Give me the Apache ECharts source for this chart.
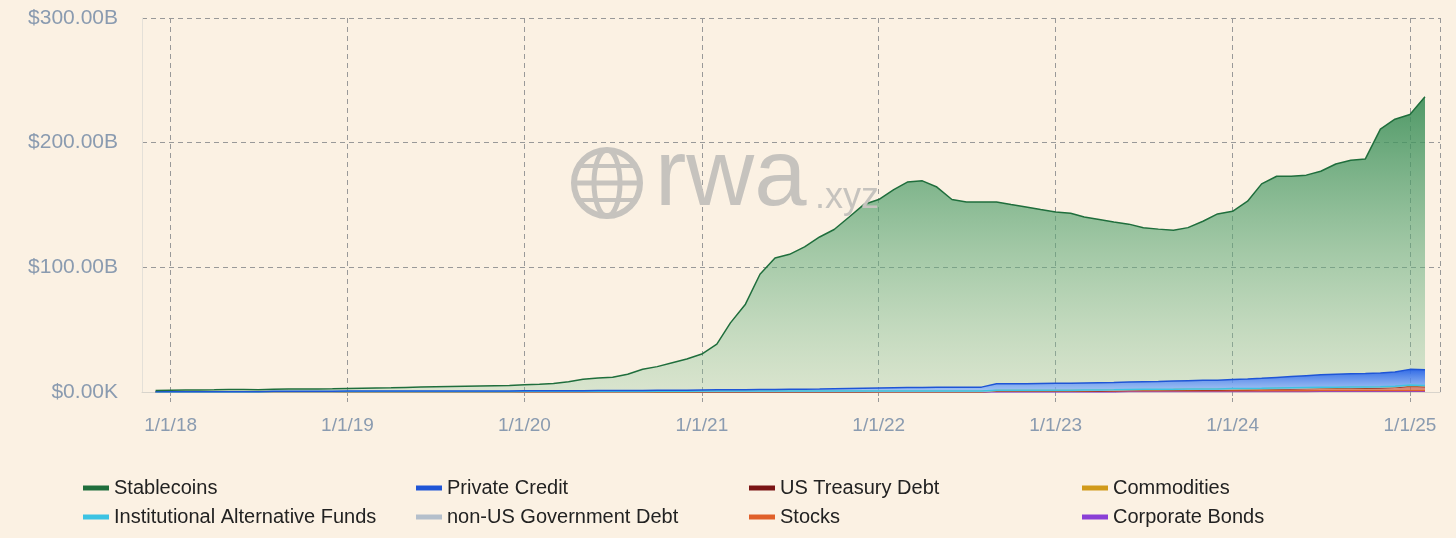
<!DOCTYPE html>
<html>
<head>
<meta charset="utf-8">
<script src="https://cdn.jsdelivr.net/npm/echarts@6/dist/echarts.min.js"></script>
<style>
  html, body { margin: 0; padding: 0; background: #fbf1e3; }
  #chart { width: 1456px; height: 538px; }
</style>
</head>
<body>
<div id="chart"></div>
<script>
// monthly dates, Dec 2017 .. Feb 2025
const dates = ['2017-12-01']
for (let y = 2018; y <= 2024; y++) {
  for (let m = 1; m <= 12; m++) dates.push(y + '-' + String(m).padStart(2, '0') + '-01')
}
dates.push('2025-01-01', '2025-02-01')

// values in billions USD
const stablecoins = [1.1,
  1.3,1.4,1.5,1.6,1.8,1.8,1.6,1.7,1.8,1.8,1.9,2.0,
  2.0,2.2,2.4,2.6,2.9,3.2,3.4,3.6,3.8,4.0,4.2,4.4,
  4.8,5.3,5.7,7.2,9.2,10.1,10.6,13.1,17,19,22,25,
  28.8,36.7,53.7,68.6,92.5,105.4,108.3,114.2,122,127.8,137.6,147.4,
  151.2,159,164.8,165.7,160.6,150.6,148.6,148.5,145.8,143.8,141.7,139.6,
  137.5,136.4,133.2,131,128.8,126.6,123.5,122.2,121,122.8,127.6,133.4,
  135,142.7,156,161.4,160.8,160.9,163.3,168.7,171.3,172.1,195.6,202.8,
  204.5,219]
const privateCredit = [0.1,
  0.1,0.1,0.1,0.1,0.1,0.1,0.2,0.2,0.2,0.2,0.2,0.2,
  0.3,0.3,0.3,0.3,0.3,0.3,0.3,0.3,0.3,0.3,0.3,0.3,
  0.4,0.4,0.5,0.5,0.5,0.6,0.6,0.6,0.7,0.7,0.8,0.8,
  0.9,1,1,1.1,1.2,1.3,1.4,1.5,1.6,1.8,2,2.2,
  2.4,2.6,2.8,2.9,3,3,3,3.1,5.2,5.2,5.3,5.4,
  5.5,5.6,5.7,5.8,5.9,6,6.1,6.3,6.5,6.7,6.9,7,
  7.2,7.5,8,8.5,9,9.5,10,10.3,10.6,10.8,11,11.5,
  12.5,12.5]
const treasury = [0,
  0,0,0,0,0,0,0,0,0,0,0,0,
  0,0,0,0,0,0,0,0,0,0,0,0,
  0,0,0,0,0,0,0,0,0,0,0,0,
  0,0,0,0,0,0,0,0,0,0,0,0,
  0.05,0.05,0.05,0.05,0.05,0.05,0.05,0.05,0.05,0.05,0.05,0.05,
  0.1,0.1,0.2,0.3,0.4,0.5,0.6,0.6,0.7,0.7,0.8,0.8,
  0.9,1,1.1,1.3,1.5,1.7,1.8,1.9,2,2.1,2.3,2.6,
  3.6,3.2]
const stocks = [0,
  0,0,0,0,0,0,0,0,0,0,0,0,
  0,0,0,0,0,0,0,0,0,0,0,0,
  0,0,0,0,0,0,0,0,0,0.1,0.1,0.1,
  0.1,0.1,0.1,0.1,0.1,0.1,0.1,0.1,0.1,0.1,0.1,0.1,
  0.1,0.1,0.1,0.1,0.1,0.1,0.1,0.1,0.8,0.8,0.8,0.8,
  0.8,0.8,0.8,0.8,0.8,0.6,0.6,0.6,0.6,0.6,0.6,0.6,
  0.6,0.6,0.6,0.6,0.6,0.6,0.6,0.6,0.6,0.6,0.6,0.6,
  0.6,0.6]
const corporateBonds = [0,
  0,0,0,0,0,0,0,0,0,0,0,0,
  0,0,0,0,0,0,0,0,0,0,0,0,
  0,0,0,0,0,0,0,0,0,0,0,0,
  0,0,0,0,0,0,0,0,0,0,0,0,
  0,0,0,0,0,0,0,0,0,0,0,0,
  0,0,0,0,0,0.4,0.4,0.4,0.4,0.5,0.5,0.5,
  0.5,0.5,0.5,0.5,0.5,0.5,0.6,0.6,0.6,0.6,0.6,0.6,
  0.6,0.6]
const altFunds = [0,
  0,0,0,0,0,0,0,0.3,0.3,0.3,0.3,0.3,
  0.3,0.3,0.3,0.3,0.3,0.3,0.3,0.3,0.3,0.3,0.3,0.3,
  0.3,0.3,0.3,0.3,0.3,0.3,0.3,0.3,0.3,0.3,0.3,0.3,
  0.3,0.3,0.3,0.3,0.3,0.3,0.3,0.3,0.3,0.3,0.3,0.3,
  0.3,0.3,0.3,0.3,0.3,0.3,0.3,0.3,0.2,0.2,0.2,0.2,
  0.2,0.2,0.2,0.2,0.2,0.2,0.2,0.2,0.2,0.2,0.2,0.2,
  0.3,0.3,0.3,0.3,0.3,0.3,0.3,0.3,0.3,0.3,0.3,0.3,
  0.3,0.3]
const nonUsDebt = dates.map(() => 0.05)
const commodities = [0,
  0,0,0,0,0,0,0,0,0,0,0,0,
  0.1,0.1,0.1,0.1,0.1,0.1,0.1,0.1,0.1,0.1,0.1,0.1,
  0.2,0.2,0.2,0.2,0.2,0.2,0.2,0.2,0.2,0.2,0.2,0.2,
  0.3,0.3,0.3,0.3,0.3,0.3,0.3,0.3,0.3,0.3,0.3,0.3,
  0.3,0.3,0.3,0.3,0.3,0.3,0.3,0.3,0.3,0.3,0.3,0.3,
  0.3,0.3,0.3,0.3,0.3,0.3,0.3,0.3,0.3,0.3,0.3,0.3,
  0.4,0.4,0.4,0.4,0.4,0.4,0.4,0.4,0.4,0.4,0.4,0.4,
  0.5,0.5]

const font = 'Liberation Sans, Arial, Helvetica, sans-serif'
const chart = echarts.init(document.getElementById('chart'))
const ts = d => Date.parse(d + 'T00:00:00')

const grad = (c1, c2) => new echarts.graphic.LinearGradient(0, 0, 0, 1, [
  { offset: 0, color: c1 }, { offset: 1, color: c2 }
])

// stacked bottom-to-top
const layers = [
  { name: 'Corporate Bonds', data: corporateBonds, line: '#8a3fd6', top: 'rgba(160,90,230,0.9)', bot: 'rgba(180,120,240,0.6)' },
  { name: 'Stocks', data: stocks, line: '#e0602a', top: 'rgba(235,110,60,0.9)', bot: 'rgba(240,140,90,0.6)' },
  { name: 'US Treasury Debt', data: treasury, line: '#7a1414', top: 'rgba(190,70,60,0.85)', bot: 'rgba(230,140,110,0.6)' },
  { name: 'Commodities', data: commodities, line: '#d19a1a', top: 'rgba(225,170,50,0.8)', bot: 'rgba(235,200,110,0.5)' },
  { name: 'non-US Government Debt', data: nonUsDebt, line: '#b4bfcb', top: 'rgba(190,200,212,0.8)', bot: 'rgba(210,218,226,0.5)' },
  { name: 'Institutional Alternative Funds', data: altFunds, line: '#3cc3e3', top: 'rgba(80,200,230,0.8)', bot: 'rgba(140,220,240,0.5)' },
  { name: 'Private Credit', data: privateCredit, line: '#1f55d6', top: 'rgba(40,100,230,0.95)', bot: 'rgba(130,180,250,0.7)' },
  { name: 'Stablecoins', data: stablecoins, line: '#1f6e3c', top: 'rgba(55,140,85,0.88)', bot: 'rgba(130,195,150,0.28)' }
]

const series = layers.map(l => ({
  name: l.name,
  type: 'line',
  stack: 'total',
  symbol: 'none',
  data: dates.map((d, i) => [d, l.data[i]]),
  lineStyle: { color: l.line, width: 1.5 },
  itemStyle: { color: l.line },
  areaStyle: { color: grad(l.top, l.bot), opacity: 1 },
  z: 2
}))

// legend placement: 4 columns x 2 rows
const legendRows = [
  ['Stablecoins', 'Private Credit', 'US Treasury Debt', 'Commodities'],
  ['Institutional Alternative Funds', 'non-US Government Debt', 'Stocks', 'Corporate Bonds']
]
const colX = [78, 411, 744, 1077]
const legends = []
legendRows.forEach((row, r) => {
  row.forEach((name, c) => {
    legends.push({
      data: [{ name, icon: 'rect' }],
      left: colX[c],
      top: 473 + r * 29,
      itemWidth: 26,
      itemHeight: 5,
      itemGap: 10,
      selectedMode: false,
      textStyle: { fontFamily: font, fontSize: 20, color: '#222' }
    })
  })
})

chart.setOption({
  backgroundColor: '#fbf1e3',
  animation: false,
  legend: legends,
  grid: { left: 142, right: 16, top: 18, bottom: 146 },
  graphic: [
    { type: 'circle', shape: { cx: 607, cy: 183, r: 33 }, style: { fill: 'none', stroke: '#c6c3be', lineWidth: 6 }, z: 10 },
    { type: 'ellipse', shape: { cx: 607, cy: 183, rx: 13, ry: 33 }, style: { fill: 'none', stroke: '#c6c3be', lineWidth: 5 }, z: 10 },
    { type: 'line', shape: { x1: 574, y1: 183, x2: 640, y2: 183 }, style: { stroke: '#c6c3be', lineWidth: 5 }, z: 10 },
    { type: 'line', shape: { x1: 580, y1: 166, x2: 634, y2: 166 }, style: { stroke: '#c6c3be', lineWidth: 4 }, z: 10 },
    { type: 'line', shape: { x1: 580, y1: 200, x2: 634, y2: 200 }, style: { stroke: '#c6c3be', lineWidth: 4 }, z: 10 },
    { type: 'text', left: 655, top: 132, style: { text: 'rwa', font: '94px ' + font, fill: '#c6c3be' }, z: 10 },
    { type: 'text', left: 815, top: 180, style: { text: '.xyz', font: '36px ' + font, fill: '#c6c3be' }, z: 10 }
  ],
  xAxis: {
    type: 'time',
    min: ts('2017-11-03'),
    max: ts('2025-03-04'),
    minInterval: 365 * 24 * 3600 * 1000,
    splitNumber: 8,
    axisLine: { show: true, lineStyle: { color: '#d8d4cc' } },
    axisTick: { show: true, length: 12, lineStyle: { color: '#999', type: 'dashed' } },
    minorTick: { show: false },
    splitLine: { show: true, lineStyle: { color: '#999', type: [5, 4], width: 1 } },
    axisLabel: {
      formatter: v => { const d = new Date(v); return (d.getMonth() + 1) + '/' + d.getDate() + '/' + String(d.getFullYear()).slice(2) },
      showMinLabel: false, showMaxLabel: false,
      color: '#8a9bb0', fontSize: 19, fontFamily: font, margin: 24
    }
  },
  yAxis: {
    type: 'value',
    min: 0,
    max: 300,
    interval: 100,
    axisLine: { show: true, lineStyle: { color: '#e4e0d8' } },
    splitLine: { lineStyle: { color: '#999', type: [5, 4] } },
    axisLabel: {
      formatter: v => v === 0 ? '$0.00K' : '$' + v.toFixed(2) + 'B',
      color: '#8a9bb0', fontSize: 21, fontFamily: font, margin: 24
    }
  },
  series
})
</script>
</body>
</html>
